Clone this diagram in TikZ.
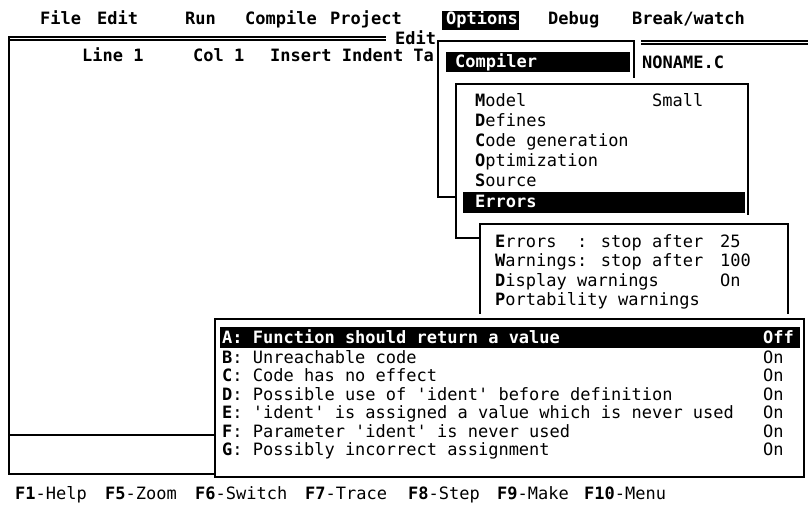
\documentclass[tikz,border=0pt]{standalone}
\usepackage{fontspec}
\newfontfamily\tcfont{DejaVu Sans Mono}
\newcommand\hk[1]{\textbf{#1}}
\newcommand\qq{\textquotesingle}
\begin{document}
\begin{tikzpicture}[x=1pt,y=-1pt,
  txt/.style={anchor=base west,inner sep=0pt,font=\tcfont\fontsize{17}{19}\selectfont},
  btxt/.style={txt,font=\tcfont\bfseries\fontsize{17}{19}\selectfont},
  wtxt/.style={btxt,text=white},
  frame/.style={line width=1.6pt,line cap=rect},
  thin/.style={line width=1.1pt}]
\useasboundingbox[fill=white] (0,0) rectangle (808,510);

% ---- menu bar
\node[btxt] (mFile) at (40,25) {File};
\node[btxt] (mEdit) at (97,25) {Edit};
\node[btxt] (mRun) at (185,25) {Run};
\node[btxt] (mCompile) at (245,25) {Compile};
\node[btxt] (mProject) at (330,25) {Project};
\fill (442,11) rectangle (519,30);
\node[wtxt] (mOptions) at (446,25) {Options};
\node[btxt] (mDebug) at (548,25) {Debug};
\node[btxt] (mBreak) at (632,25) {Break/watch};

% ---- edit window frame
\draw[thin] (9,37) -- (386,37);
\draw[thin] (9,40) -- (386,40);
\draw[thin] (641,41) -- (808,41);
\draw[thin] (641,44) -- (808,44);
\draw[frame] (9,37) -- (9,474) -- (215,474);
\draw[frame] (9,435) -- (215,435);
\node[btxt] (tEdit) at (395,45) {Edit};
\node[btxt] (sLine) at (82,62) {Line 1};
\node[btxt] (sCol) at (193,62) {Col 1};
\node[btxt] (sIns) at (270,62) {Insert Indent Ta};
\node[btxt] (fname) at (642,69) {NONAME.C};

% ---- Options menu
\fill[white] (438,41) rectangle (634,197);
\draw[frame] (634,77) -- (634,41) -- (438,41) -- (438,197) -- (456,197);
\fill (446,52) rectangle (630,72);
\node[wtxt] (oCompiler) at (455,68) {Compiler};

% ---- Compiler submenu
\draw[frame] (480,238) -- (456,238) -- (456,84) -- (748,84) -- (748,214);
\node[txt] (cModel) at (475,107) {\hk{M}odel};
\node[txt] (cSmall) at (652,107) {Small};
\node[txt] (cDef) at (475,127) {\hk{D}efines};
\node[txt] (cCode) at (475,147) {\hk{C}ode generation};
\node[txt] (cOpt) at (475,167) {\hk{O}ptimization};
\node[txt] (cSrc) at (475,187) {\hk{S}ource};
\fill (463,192) rectangle (745,213);
\node[wtxt] (cErr) at (475,208) {Errors};

% ---- Errors submenu
\draw[frame] (480,313) -- (480,224) -- (788,224) -- (788,313);
\node[txt] (eErr) at (495,248) {\hk{E}rrors\ \ : stop after};
\node[txt] (eErrV) at (720,248) {25};
\node[txt] (eWarn) at (495,267) {\hk{W}arnings: stop after};
\node[txt] (eWarnV) at (720,267) {100};
\node[txt] (eDisp) at (495,287) {\hk{D}isplay warnings};
\node[txt] (eDispV) at (720,287) {On};
\node[txt] (ePort) at (495,306) {\hk{P}ortability warnings};

% ---- Portability/warnings list
\fill[white] (215,319) rectangle (804,477);
\draw[frame] (215,319) rectangle (804,477);
\fill (220,327) rectangle (800,348);
\node[wtxt] (wA) at (222,344) {A: Function should return a value};
\node[wtxt] (wAv) at (763,344) {Off};
\node[txt] (wB) at (222,363) {\hk{B}: Unreachable code};
\node[txt] (wBv) at (763,363) {On};
\node[txt] (wC) at (222,381) {\hk{C}: Code has no effect};
\node[txt] (wCv) at (763,381) {On};
\node[txt] (wD) at (222,400) {\hk{D}: Possible use of \qq ident\qq\ before definition};
\node[txt] (wDv) at (763,400) {On};
\node[txt] (wE) at (222,418) {\hk{E}: \qq ident\qq\ is assigned a value which is never used};
\node[txt] (wEv) at (763,418) {On};
\node[txt] (wF) at (222,437) {\hk{F}: Parameter \qq ident\qq\ is never used};
\node[txt] (wFv) at (763,437) {On};
\node[txt] (wG) at (222,455) {\hk{G}: Possibly incorrect assignment};
\node[txt] (wGv) at (763,455) {On};

% ---- function key line
\node[txt] (k1) at (15,499) {\hk{F1}-Help};
\node[txt] (k5) at (105,499) {\hk{F5}-Zoom};
\node[txt] (k6) at (195,499) {\hk{F6}-Switch};
\node[txt] (k7) at (305,499) {\hk{F7}-Trace};
\node[txt] (k8) at (408,499) {\hk{F8}-Step};
\node[txt] (k9) at (497,499) {\hk{F9}-Make};
\node[txt] (k10) at (584,499) {\hk{F10}-Menu};
\end{tikzpicture}
\end{document}
